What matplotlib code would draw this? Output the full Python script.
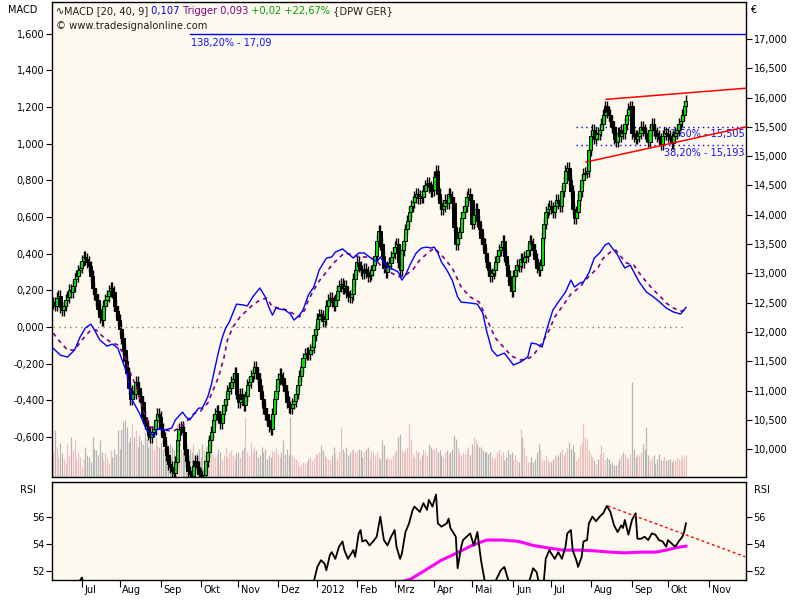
import numpy as np
import pandas as pd
import matplotlib
matplotlib.use("Agg")
import matplotlib.pyplot as plt
from matplotlib.transforms import ScaledTranslation

# daily closes DPW (EUR), one list per month
close_2011_06 = [12.50, 12.45, 12.58, 12.62, 12.42, 12.38, 12.45, 12.55, 12.60, 12.72, 12.68, 12.78, 12.90, 12.95, 13.05, 13.10]
close_2011_07 = [13.22, 13.28, 13.25, 13.20, 13.12, 12.95, 12.75, 12.65, 12.55, 12.40, 12.25, 12.20, 12.45, 12.55, 12.62, 12.70, 12.75, 12.68, 12.45, 12.35, 12.20]
close_2011_08 = [12.05, 11.90, 11.70, 11.50, 11.30, 11.05, 10.85, 11.00, 10.95, 11.15, 11.05, 10.90, 10.80, 10.55, 10.45, 10.40, 10.25, 10.20, 10.30, 10.35, 10.50, 10.60, 10.55]
close_2011_09 = [10.35, 10.20, 10.05, 9.90, 9.75, 9.70, 9.62, 9.60, 9.78, 10.15, 10.35, 10.38, 10.30, 10.00, 9.80, 9.62, 9.58, 9.55, 9.72, 9.80, 9.70, 9.58]
close_2011_10 = [9.53, 9.50, 9.56, 9.80, 9.95, 10.15, 10.30, 10.50, 10.60, 10.65, 10.55, 10.45, 10.60, 10.75, 10.85, 11.00, 11.05, 11.15, 11.20, 11.30, 10.95]
close_2011_11 = [10.80, 10.95, 10.85, 10.75, 10.90, 11.10, 11.15, 11.25, 11.30, 11.40, 11.30, 11.20, 11.00, 10.85, 10.70, 10.60, 10.50, 10.40, 10.35, 10.60, 10.85, 11.00]
close_2011_12 = [11.20, 11.28, 11.22, 11.10, 11.00, 10.80, 10.72, 10.70, 10.78, 10.82, 10.95, 11.10, 11.25, 11.40, 11.55, 11.62, 11.65, 11.62, 11.70, 11.75, 11.95, 12.05]
close_2012_01 = [12.22, 12.30, 12.28, 12.18, 12.22, 12.45, 12.55, 12.58, 12.52, 12.45, 12.55, 12.70, 12.78, 12.82, 12.75, 12.78, 12.68, 12.62, 12.60, 12.65, 12.90, 13.05]
close_2012_02 = [13.20, 13.12, 13.05, 13.00, 13.08, 13.02, 12.95, 12.98, 13.05, 13.15, 13.30, 13.55, 13.72, 13.50, 13.30, 13.10, 13.02, 13.12, 13.18, 13.28, 13.35]
close_2012_03 = [13.45, 13.50, 13.20, 13.05, 13.40, 13.55, 13.75, 13.90, 14.05, 14.15, 14.22, 14.30, 14.35, 14.28, 14.32, 14.30, 14.40, 14.50, 14.55, 14.48, 14.40, 14.42]
close_2012_04 = [14.65, 14.75, 14.35, 14.20, 14.10, 14.15, 14.25, 14.20, 14.35, 14.30, 14.20, 13.80, 13.50, 13.60, 13.70, 13.95, 14.05, 14.15, 14.30, 14.35, 14.25]
close_2012_05 = [13.85, 14.00, 14.10, 13.90, 13.75, 13.60, 13.50, 13.35, 13.20, 13.05, 12.95, 13.00, 13.05, 13.20, 13.30, 13.40, 13.45, 13.55, 13.30, 13.15, 12.95, 12.80, 12.70]
close_2012_06 = [12.95, 13.05, 13.15, 13.12, 13.25, 13.20, 13.28, 13.30, 13.40, 13.55, 13.50, 13.40, 13.25, 13.10, 13.05, 13.15, 13.60, 13.85, 14.05, 14.10, 14.15]
close_2012_07 = [14.12, 14.05, 14.15, 14.25, 14.20, 14.15, 14.40, 14.55, 14.75, 14.80, 14.60, 14.40, 14.10, 13.95, 14.05, 14.25, 14.40, 14.60, 14.70, 14.72, 14.75, 15.10]
close_2012_08 = [15.35, 15.45, 15.30, 15.40, 15.38, 15.45, 15.55, 15.70, 15.85, 15.75, 15.70, 15.60, 15.50, 15.30, 15.25, 15.40, 15.35, 15.45, 15.40, 15.55, 15.70, 15.80, 15.85]
close_2012_09 = [15.40, 15.35, 15.30, 15.35, 15.40, 15.50, 15.45, 15.40, 15.35, 15.25, 15.45, 15.55, 15.45, 15.40, 15.35, 15.30, 15.20, 15.35, 15.40, 15.38]
close_2012_10 = [15.35, 15.30, 15.22, 15.35, 15.40, 15.45, 15.55, 15.60, 15.70, 15.85, 15.95]

# daily volume (million shares)
vol_2011_06 = [3.6, 6.7, 4.3, 2.9, 4.9, 3.4, 2.6, 2.0, 4.7, 3.1, 5.7, 3.9, 5.3, 2.6, 3.6, 2.9]
vol_2011_07 = [1.4, 2.6, 4.3, 3.1, 2.9, 2.1, 5.7, 4.0, 3.9, 3.1, 5.3, 3.6, 2.4, 3.4, 2.7, 2.0, 3.9, 2.9, 4.0, 3.3, 6.7]
vol_2011_08 = [4.0, 6.7, 7.9, 8.1, 7.1, 5.0, 5.7, 7.7, 5.7, 6.7, 4.3, 6.0, 5.1, 4.7, 6.4, 5.4, 4.3, 6.9, 5.0, 4.0, 5.7, 4.6, 4.3]
vol_2011_09 = [5.0, 4.0, 4.3, 5.0, 3.6, 4.7, 4.3, 3.9, 3.1, 7.6, 5.0, 4.0, 3.6, 4.3, 3.6, 3.1, 4.0, 3.6, 4.7, 2.9, 3.6, 4.0]
vol_2011_10 = [2.9, 4.7, 3.9, 4.3, 5.7, 3.6, 4.6, 3.1, 2.9, 3.3, 4.0, 3.6, 2.6, 3.1, 4.3, 2.9, 3.6, 3.9, 3.1, 2.6, 3.4]
vol_2011_11 = [3.6, 2.9, 3.9, 4.3, 8.6, 3.6, 3.1, 5.0, 3.6, 4.3, 3.9, 2.9, 3.1, 4.3, 3.6, 4.0, 2.6, 3.1, 2.9, 3.9, 3.6, 4.3]
vol_2011_12 = [3.3, 2.9, 3.6, 5.3, 3.3, 4.0, 3.1, 8.6, 3.1, 2.9, 2.6, 2.1, 1.4, 1.7, 2.1, 2.0, 2.1, 2.6, 2.9, 2.4, 2.9, 3.3]
vol_2012_01 = [3.3, 3.6, 4.6, 3.9, 3.1, 2.9, 2.6, 2.4, 3.1, 4.3, 3.4, 2.6, 3.6, 7.1, 4.0, 3.6, 4.3, 3.1, 3.6, 3.9, 4.0, 3.6]
vol_2012_02 = [3.9, 4.0, 3.9, 2.9, 3.6, 4.0, 4.3, 2.9, 3.9, 3.6, 3.1, 3.6, 2.9, 2.6, 5.3, 4.6, 2.6, 2.9, 2.6, 2.6, 3.1]
vol_2012_03 = [3.6, 3.9, 5.7, 6.1, 3.9, 3.6, 4.0, 4.3, 7.6, 5.4, 3.3, 2.9, 3.9, 3.6, 2.6, 3.1, 4.0, 3.6, 3.1, 4.7, 4.3, 3.9]
vol_2012_04 = [4.0, 4.3, 3.6, 3.9, 3.1, 2.9, 3.6, 3.9, 3.3, 3.6, 4.0, 6.0, 5.4, 4.3, 3.6, 3.1, 3.6, 3.3, 3.9, 4.3, 3.1]
vol_2012_05 = [4.7, 5.7, 5.3, 4.7, 4.3, 4.3, 3.9, 3.6, 3.6, 3.3, 3.6, 2.9, 2.4, 2.9, 3.6, 3.9, 3.1, 3.6, 2.4, 2.9, 3.9, 3.3, 3.6]
vol_2012_06 = [2.4, 3.1, 2.4, 2.1, 6.9, 5.7, 4.3, 3.1, 2.1, 2.1, 2.9, 2.1, 2.6, 3.6, 4.7, 3.9, 2.6, 2.4, 3.1, 2.4, 2.1]
vol_2012_07 = [2.1, 2.6, 3.1, 2.9, 3.1, 3.6, 4.0, 3.1, 3.6, 4.3, 5.0, 4.0, 4.6, 3.6, 2.4, 2.9, 4.6, 5.0, 7.6, 5.7, 5.4, 3.9]
vol_2012_08 = [3.3, 2.9, 2.4, 1.9, 2.6, 3.3, 4.6, 3.6, 2.4, 2.9, 2.6, 1.9, 2.1, 1.7, 1.7, 2.0, 2.6, 3.1, 3.6, 3.3, 2.9, 2.6, 3.3]
vol_2012_09 = [13.6, 4.0, 2.9, 3.3, 3.1, 3.6, 4.7, 4.0, 7.1, 3.1, 2.4, 2.9, 3.1, 1.9, 2.6, 3.3, 2.4, 2.4, 2.9, 2.4]
vol_2012_10 = [2.4, 2.6, 2.1, 2.6, 2.4, 2.9, 2.6, 2.4, 3.1, 2.9, 3.1]

# MACD [20, 40, 9] and trigger, sampled by trading-day number
macd_day = [0, 4, 8, 12, 15, 18, 21, 23, 26, 30, 33, 36, 38, 41, 44, 48, 52, 56, 58, 62,
            66, 68, 72, 74, 76, 78, 81, 83, 86, 88, 90, 92, 94, 96, 98, 102, 106, 108, 111, 115,
            118, 120, 122, 124, 126, 129, 132, 134, 137, 139, 142, 145, 148, 152, 155, 157, 161, 165, 167, 170,
            173, 176, 180, 182, 186, 190, 192, 194, 196, 199, 202, 205, 208, 210, 212, 214, 216, 219, 222, 225,
            227, 232, 236, 239, 241, 244, 247, 251, 254, 256, 260, 264, 266, 269, 272, 275, 278, 281, 285, 288,
            290, 293, 295, 298, 300, 301, 304, 307, 309, 311, 314, 316, 318, 321, 323, 326, 330, 334, 338, 341,
            345, 349, 350, 352]
macd_val = [-0.115, -0.153, -0.164, -0.125, -0.055, -0.005, 0.016, -0.016, -0.071, -0.104,
            -0.093, -0.115, -0.169, -0.251, -0.398, -0.469, -0.562, -0.595, -0.556, -0.562,
            -0.551, -0.507, -0.464, -0.491, -0.507, -0.480, -0.442, -0.442, -0.382, -0.316,
            -0.224, -0.136, -0.060, -0.005, 0.027, 0.125, 0.120, 0.115, 0.164, 0.213,
            0.164, 0.109, 0.065, 0.104, 0.098, 0.093, 0.071, 0.038, 0.065, 0.093,
            0.175, 0.218, 0.311, 0.376, 0.382, 0.409, 0.426, 0.393, 0.376, 0.404,
            0.404, 0.382, 0.355, 0.382, 0.327, 0.311, 0.300, 0.256, 0.284, 0.349,
            0.404, 0.431, 0.436, 0.431, 0.436, 0.404, 0.355, 0.311, 0.256, 0.164,
            0.136, 0.131, 0.125, 0.076, -0.016, -0.125, -0.158, -0.142, -0.180, -0.207,
            -0.191, -0.164, -0.087, -0.093, -0.109, 0.000, 0.093, 0.136, 0.191, 0.256,
            0.218, 0.240, 0.246, 0.295, 0.349, 0.376, 0.404, 0.447, 0.458, 0.431,
            0.393, 0.355, 0.322, 0.338, 0.300, 0.246, 0.191, 0.164, 0.131, 0.104,
            0.082, 0.071, 0.082, 0.107]
trig_day = [0, 4, 8, 12, 16, 21, 24, 28, 32, 36, 39, 43, 47, 50, 54, 58, 61, 67, 71, 75,
            78, 82, 86, 89, 92, 95, 97, 100, 104, 108, 111, 115, 119, 122, 126, 130, 133, 137, 140, 142,
            145, 148, 152, 156, 159, 162, 165, 169, 172, 176, 180, 182, 187, 193, 196, 200, 204, 209, 212, 217,
            222, 227, 232, 237, 242, 246, 251, 255, 260, 265, 268, 272, 276, 279, 283, 288, 293, 296, 300, 303,
            306, 310, 313, 315, 319, 323, 326, 330, 334, 338, 341, 345, 349, 352]
trig_val = [-0.033, -0.082, -0.125, -0.125, -0.071, -0.016, -0.016, -0.055, -0.082, -0.098,
            -0.142, -0.251, -0.344, -0.453, -0.546, -0.551, -0.562, -0.567, -0.546, -0.507,
            -0.475, -0.458, -0.415, -0.344, -0.273, -0.169, -0.071, 0.000, 0.055, 0.093,
            0.120, 0.147, 0.158, 0.109, 0.104, 0.093, 0.076, 0.055, 0.093, 0.147,
            0.202, 0.251, 0.300, 0.349, 0.376, 0.404, 0.398, 0.387, 0.382, 0.382,
            0.360, 0.338, 0.300, 0.273, 0.284, 0.311, 0.366, 0.409, 0.431, 0.382,
            0.322, 0.218, 0.164, 0.136, 0.027, -0.060, -0.115, -0.158, -0.180, -0.169,
            -0.142, -0.087, -0.016, 0.055, 0.109, 0.180, 0.218, 0.256, 0.295, 0.322,
            0.376, 0.409, 0.420, 0.393, 0.349, 0.338, 0.295, 0.246, 0.202, 0.164,
            0.131, 0.104, 0.087, 0.093]

# RSI and its average
rsi_day = [0, 13, 16, 18, 30, 45, 80, 120, 140, 145, 147, 149, 151, 152, 154, 155, 157, 159, 161, 162,
           164, 167, 168, 170, 171, 172, 174, 176, 178, 180, 182, 184, 186, 188, 190, 191, 193, 194, 196, 198,
           200, 201, 204, 206, 208, 209, 211, 213, 214, 216, 219, 220, 221, 224, 225, 227, 228, 230, 232, 234,
           236, 238, 240, 243, 249, 251, 253, 256, 262, 265, 267, 269, 270, 272, 273, 274, 276, 279, 281, 283,
           285, 286, 288, 289, 291, 292, 294, 295, 297, 298, 300, 302, 304, 306, 308, 310, 312, 314, 316, 317,
           318, 320, 322, 324, 325, 327, 329, 331, 333, 335, 337, 339, 341, 342, 344, 346, 348, 350, 351, 352]
rsi_val = [50.4, 50.9, 51.5, 50.7, 49.5, 47.0, 45.0, 47.5, 50.5, 51.2, 52.3, 52.8, 52.55, 52.05, 53.2, 53.4, 52.9, 53.8, 54.2, 53.55,
           52.9, 53.55, 53.05, 54.8, 55.05, 54.2, 54.3, 53.9, 54.2, 54.55, 56.05, 54.3, 53.9, 54.55, 55.05, 53.8, 52.9, 53.3, 54.9, 55.55,
           56.55, 56.8, 56.4, 57.05, 56.55, 57.3, 56.8, 57.7, 55.55, 55.3, 55.55, 55.9, 55.2, 54.55, 52.2, 53.8, 54.3, 54.55, 54.8, 53.9,
           54.9, 52.8, 51.3, 50.4, 52.05, 52.3, 51.4, 50.3, 50.5, 51.3, 52.2, 51.9, 51.2, 50.9, 51.3, 52.9, 53.55, 52.9, 53.4, 52.9,
           53.8, 54.8, 55.05, 53.55, 52.8, 52.3, 53.05, 54.2, 54.3, 55.55, 56.05, 55.7, 56.05, 56.3, 56.85, 56.4, 55.4, 54.9, 55.4, 55.2,
           55.8, 54.7, 55.8, 56.3, 54.4, 54.4, 54.55, 54.3, 54.8, 54.7, 54.3, 54.2, 53.8, 54.3, 54.05, 53.8, 54.2, 54.55, 54.9, 55.55]
rsi_avg_day = [150, 180, 199, 207, 216, 224, 233, 241, 250, 259, 267, 276, 284, 293, 301, 310, 318, 327, 335, 341, 347, 352]
rsi_avg_val = [49.8, 50.6, 51.4, 52.05, 52.8, 53.3, 53.9, 54.3, 54.3, 54.2, 53.9, 53.7, 53.55, 53.55, 53.5, 53.4, 53.35, 53.4, 53.4, 53.55, 53.75, 53.85]

# drawn tools: trend lines (day, value), Fibonacci levels
upper_trend_day, upper_trend_px = [307.6, 385.4], [15.97, 16.16]
lower_trend_day, lower_trend_px = [296.4, 385.4], [14.90, 15.50]
rsi_trend_day, rsi_trend_val = [308.5, 384.9], [56.85, 53.06]
fib_names = ["23,60%", "38,20%"]
fib_levels = [15.505, 15.193]
fib_start = 291
ext_name, ext_level, ext_start = "138,20%", 17.09, 76

month_labels = ["Jul", "Aug", "Sep", "Okt", "Nov", "Dez", "2012", "Feb", "Mrz", "Apr",
                "Mai", "Jun", "Jul", "Aug", "Sep", "Okt", "Nov"]
macd_last, trig_last, chg, chg_pct = 0.107, 0.093, 0.02, 22.67

close = np.array(close_2011_06 + close_2011_07 + close_2011_08 + close_2011_09 + close_2011_10
                 + close_2011_11 + close_2011_12 + close_2012_01 + close_2012_02 + close_2012_03
                 + close_2012_04 + close_2012_05 + close_2012_06 + close_2012_07 + close_2012_08
                 + close_2012_09 + close_2012_10)
volume = np.array(vol_2011_06 + vol_2011_07 + vol_2011_08 + vol_2011_09 + vol_2011_10
                  + vol_2011_11 + vol_2011_12 + vol_2012_01 + vol_2012_02 + vol_2012_03
                  + vol_2012_04 + vol_2012_05 + vol_2012_06 + vol_2012_07 + vol_2012_08
                  + vol_2012_09 + vol_2012_10)
n = len(close)
x = np.arange(n)

axis_dates = pd.bdate_range("2011-06-09", "2012-12-31")
month_pos = [axis_dates.searchsorted(m) for m in pd.date_range("2011-07-01", "2012-11-01", freq="MS")]


def de(v, d):
    return f"{v:.{d}f}".replace(".", ",")


W, H = 800, 600
BG = "#FDF9EE"
XMIN, XMAX = -0.6, 385.4


def fx(px):
    return px / W


def fy(py):
    return 1 - py / H


fig = plt.figure(figsize=(8, 6), dpi=100, facecolor="white")

# ---- main panel: volume (base), price (right), MACD (left) ----
ax_v = fig.add_axes([fx(52), fy(477), (746 - 52) / W, (477 - 2) / H])
ax_v.set_facecolor(BG)
ax_p = ax_v.twinx()
ax_m = ax_v.twinx()
ax_m.yaxis.tick_left()
ax_m.yaxis.set_label_position("left")
ax_v.set_zorder(0)
ax_p.set_zorder(1)
ax_m.set_zorder(2)
ax_v.set_xlim(XMIN, XMAX)
ax_v.yaxis.set_visible(False)
ax_v.tick_params(axis="x", bottom=False, labelbottom=False)
for a in (ax_p, ax_m):
    for s in a.spines.values():
        s.set_visible(False)
for s in ax_v.spines.values():
    s.set_linewidth(1.0)
    s.set_color("black")

open_ = np.r_[close[0], close[:-1]]
up = close >= open_
body_lo = np.minimum(open_, close)
body_hi = np.maximum(open_, close)

ax_v.vlines(x, 0, volume, colors=np.where(up, "#EDBFBF", "#B6B6B6"), lw=0.9)
ax_v.set_ylim(0, 475 / 7)

wick = 0.1
ax_p.vlines(x, body_lo - wick, body_hi + wick, color="black", lw=1.0, zorder=2)
ax_p.bar(x, np.maximum(body_hi - body_lo, 0.012), bottom=body_lo, width=1.7,
         color=list(np.where(up, "#00E000", "black")), edgecolor="black", linewidth=0.7, zorder=3)
ax_p.set_ylim(9.526, 17.631)
price_ticks = np.arange(10, 17.01, 0.5)
ax_p.set_yticks(price_ticks)
ax_p.set_yticklabels([de(t, 3) for t in price_ticks])
ax_p.tick_params(axis="y", direction="out", length=4, width=0.8, pad=2, labelsize=7)

# Fibonacci extension and retracements
ax_p.plot([ext_start, XMAX], [ext_level] * 2, color="#0000E0", lw=1, zorder=4)
ax_p.annotate(f"{ext_name} - {de(ext_level, 2)}", xy=(ext_start, ext_level), xytext=(1, -3),
              textcoords="offset points", ha="left", va="top", color="#1010FF", fontsize=7)
for name, lvl in zip(fib_names, fib_levels):
    ax_p.plot([fib_start, XMAX], [lvl, lvl], color="#0000FF", lw=1, ls=(0, (1, 2.5)), zorder=1)
    ax_p.annotate(f"{name} - {de(lvl, 3)}", xy=(XMAX, lvl), xytext=(-1, -2), textcoords="offset points",
                  ha="right", va="top", color="#1010FF", fontsize=7, zorder=1)
ax_p.plot(upper_trend_day, upper_trend_px, color="red", lw=1.1, zorder=4)
ax_p.plot(lower_trend_day, lower_trend_px, color="red", lw=1.1, zorder=4)

ax_m.plot([0, n - 1], [0, 0], color="#808080", lw=1.0, ls=(0, (1, 3)))
ax_m.plot(trig_day, trig_val, color="#800080", lw=1.2, ls=(0, (2.5, 2.5)))
ax_m.plot(macd_day, macd_val, color="#0000FF", lw=1.0)
ax_m.set_ylim(-0.818, 1.773)
macd_ticks = [-0.6, -0.4, -0.2, 0.0, 0.2, 0.4, 0.6, 0.8, 1.0, 1.2, 1.4, 1.6]
ax_m.set_yticks(macd_ticks)
ax_m.set_yticklabels([de(t, 3) for t in macd_ticks])
ax_m.tick_params(axis="y", direction="out", length=4, width=0.8, pad=1.5, labelsize=7)

# ---- RSI panel ----
ax_r = fig.add_axes([fx(52), fy(579.5), (746 - 52) / W, (579.5 - 481.5) / H])
ax_r.set_facecolor(BG)
ax_r.plot(rsi_avg_day, rsi_avg_val, color="#FF00FF", lw=2.2)
ax_r.plot(rsi_day, rsi_val, color="black", lw=1.3)
ax_r.plot(rsi_trend_day, rsi_trend_val, color="red", lw=1.0, ls=(0, (2, 2)))
ax_r.set_xlim(XMIN, XMAX)
ax_r.set_ylim(51.36, 58.67)
ax_r.set_yticks([52, 54, 56])
ax_r.set_yticklabels(["52", "54", "56"])
ax_r.tick_params(axis="y", left=True, right=True, labelleft=True, labelright=True,
                 direction="out", length=4, width=0.8, pad=1.5, labelsize=7)
ax_r.set_xticks(month_pos)
ax_r.set_xticklabels(month_labels)
ax_r.tick_params(axis="x", direction="out", length=5, width=0.8, pad=-1, labelsize=7)
shift = ScaledTranslation(2 / 72, 0, fig.dpi_scale_trans)
for lbl in ax_r.get_xticklabels():
    lbl.set_horizontalalignment("left")
    lbl.set_transform(lbl.get_transform() + shift)
for s in ax_r.spines.values():
    s.set_linewidth(1.0)
    s.set_color("black")

# ---- texts ----
fig.text(fx(8), fy(10), "MACD", fontsize=7, va="center")
fig.text(fx(750), fy(10), "€", fontsize=7, va="center")
fig.text(fx(20), fy(490), "RSI", fontsize=7, va="center")
fig.text(fx(754), fy(490), "RSI", fontsize=7, va="center")

# header: pieces chained one after the other
header = [("MACD [20, 40, 9]", "#202020"),
          (" " + de(macd_last, 3), "#0000E0"),
          (f" Trigger {de(trig_last, 3)}", "#800080"),
          (f" +{de(chg, 2)} +{de(chg_pct, 2)}%", "#00A000"),
          (" {DPW GER}", "#202020")]
prev = fig.text(fx(56), fy(11), "∿", fontsize=7.1, va="center")
for txt, col in header:
    prev = ax_v.annotate(txt, xy=(1, 0.5), xycoords=prev, ha="left", va="center",
                         fontsize=7.1, color=col, annotation_clip=False, zorder=5)
fig.text(fx(56), fy(26), "© www.tradesignalonline.com", fontsize=7.2, va="center", color="#202020")

fig.savefig("out.png", dpi=100)
